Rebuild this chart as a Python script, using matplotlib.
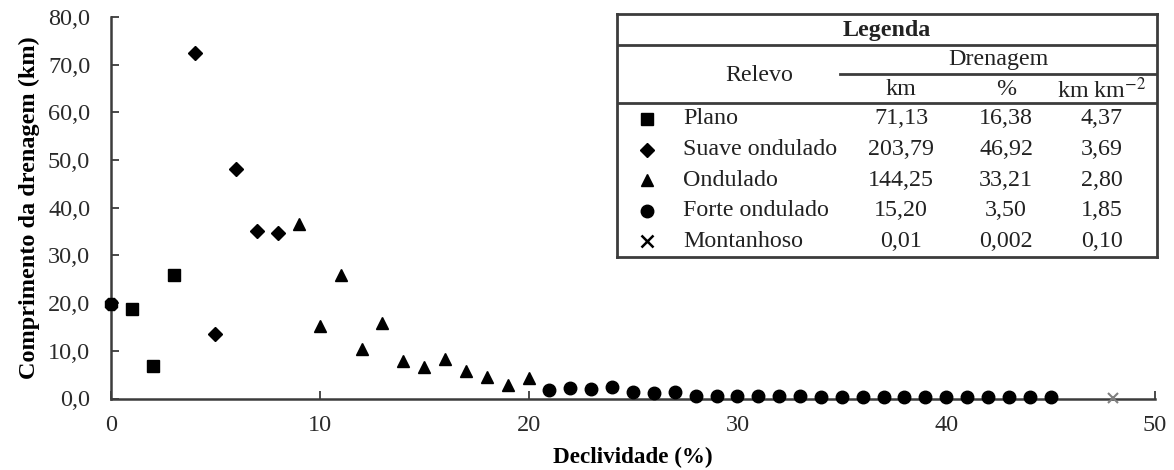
import matplotlib
matplotlib.use("Agg")
import matplotlib.pyplot as plt
from matplotlib.ticker import FuncFormatter

plt.rcParams['font.family'] = ['Liberation Serif', 'DejaVu Serif']
plt.rcParams['mathtext.fontset'] = 'stix'

# ---- data ----
plano_x = [0, 1, 2, 3]
plano_y = [19.9, 18.8, 6.9, 25.8]
plano_markers = ['8', 's', 's', 's']

suave_x = [4, 5, 6, 7, 8]
suave_y = [72.4, 13.6, 48.1, 35.1, 34.7]

ond_x = [9, 10, 11, 12, 13, 14, 15, 16, 17, 18, 19, 20]
ond_y = [36.6, 15.1, 25.9, 10.3, 15.9, 7.8, 6.6, 8.2, 5.8, 4.5, 2.9, 4.3]

forte_x = list(range(21, 46))
forte_y = [1.7, 2.2, 1.9, 2.4, 1.3, 1.2, 1.3, 0.6, 0.5, 0.5, 0.5, 0.5, 0.5,
           0.4, 0.4, 0.4, 0.4, 0.4, 0.4, 0.4, 0.4, 0.4, 0.4, 0.4, 0.4]

mont_x = [48]
mont_y = [0.01]

relevo = ['Plano', 'Suave ondulado', 'Ondulado', 'Forte ondulado', 'Montanhoso']
dren_km = ['71,13', '203,79', '144,25', '15,20', '0,01']
dren_pct = ['16,38', '46,92', '33,21', '3,50', '0,002']
dren_dens = ['4,37', '3,69', '2,80', '1,85', '0,10']
leg_markers = ['s', 'D', '^', 'o', 'x']
leg_sizes = [9, 7, 9, 9, 9]

x_ticks = [0, 10, 20, 30, 40, 50]
y_ticks = [0, 10, 20, 30, 40, 50, 60, 70, 80]

# ---- figure ----
W, H = 1174, 470
fig = plt.figure(figsize=(W / 100, H / 100), dpi=100)
ax = fig.add_axes([111 / W, 1 - 398.5 / H, (1155 - 111) / W, (398.5 - 17) / H])

axis_col = '#3c3c3c'
for xi, yi, m in zip(plano_x, plano_y, plano_markers):
    ax.plot([xi], [yi], marker=m, ms=9 if m == 's' else 10, color='black',
            ls='none', clip_on=False, zorder=3)
ax.plot(suave_x, suave_y, marker='D', ms=7, color='black', ls='none', clip_on=False, zorder=3)
ax.plot(ond_x, ond_y, marker='^', ms=9, color='black', ls='none', clip_on=False, zorder=3)
ax.plot(forte_x, forte_y, marker='o', ms=9, color='black', ls='none', clip_on=False, zorder=3)
ax.plot(mont_x, mont_y, marker='x', ms=7, mew=1.5, color='#808080', ls='none', clip_on=False, zorder=3)

ax.set_xlim(0, 50)
ax.set_ylim(0, 80)
ax.set_xticks(x_ticks)
ax.set_yticks(y_ticks)
ax.yaxis.set_major_formatter(FuncFormatter(lambda v, p: f"{v:.1f}".replace('.', ',')))
ax.spines['top'].set_visible(False)
ax.spines['right'].set_visible(False)
for s in ['left', 'bottom']:
    ax.spines[s].set_color(axis_col)
    ax.spines[s].set_linewidth(1.8)
ax.tick_params(direction='in', length=6, width=1.3, color=axis_col,
               labelsize=17.5, labelcolor='#2a2a2a')
ax.tick_params(axis='y', pad=15)
ax.tick_params(axis='x', pad=12)
ax.set_xlabel('Declividade (%)', fontsize=16.7, fontweight='bold', labelpad=8)
ax.set_ylabel('Comprimento da drenagem (km)', fontsize=17.5, fontweight='bold', labelpad=6)

# ---- legend table (pixel coordinates) ----
L, R, T, B = 617, 1157, 14, 257
lg = fig.add_axes([L / W, 1 - B / H, (R - L) / W, (B - T) / H])
lg.set_xlim(L, R)
lg.set_ylim(B, T)
lg.set_xticks([])
lg.set_yticks([])
for s in lg.spines.values():
    s.set_color(axis_col)
    s.set_linewidth(2)
lc = axis_col
lg.plot([L, R], [45, 45], color=lc, lw=2)
lg.plot([L, R], [103, 103], color=lc, lw=2)
lg.plot([840, R], [74, 74], color=lc, lw=2)

fs = 17.3
tc = '#222222'
lg.text(887, 31, 'Legenda', ha='center', va='center', fontsize=fs, fontweight='bold', color=tc)
lg.text(759, 76, 'Relevo', ha='center', va='center', fontsize=fs, color=tc)
lg.text(998, 60, 'Drenagem', ha='center', va='center', fontsize=fs, color=tc)
lg.text(901, 90, 'km', ha='center', va='center', fontsize=fs, color=tc)
lg.text(1006, 90, '%', ha='center', va='center', fontsize=fs, color=tc)
lg.text(1102, 90, 'km km$^{-2}$', ha='center', va='center', fontsize=fs, color=tc)

row_y0, row_dy = 119, 30.6
for i in range(len(relevo)):
    y = row_y0 + i * row_dy
    lg.plot([647], [y], marker=leg_markers[i], ms=leg_sizes[i], color='black',
            mew=1.8 if leg_markers[i] == 'x' else 1, ls='none')
    lg.text(683, y, relevo[i], ha='left', va='center', fontsize=fs, color=tc)
    lg.text(901, y, dren_km[i], ha='center', va='center', fontsize=fs, color=tc)
    lg.text(1006, y, dren_pct[i], ha='center', va='center', fontsize=fs, color=tc)
    lg.text(1102, y, dren_dens[i], ha='center', va='center', fontsize=fs, color=tc)

fig.savefig('out.png', dpi=100)
